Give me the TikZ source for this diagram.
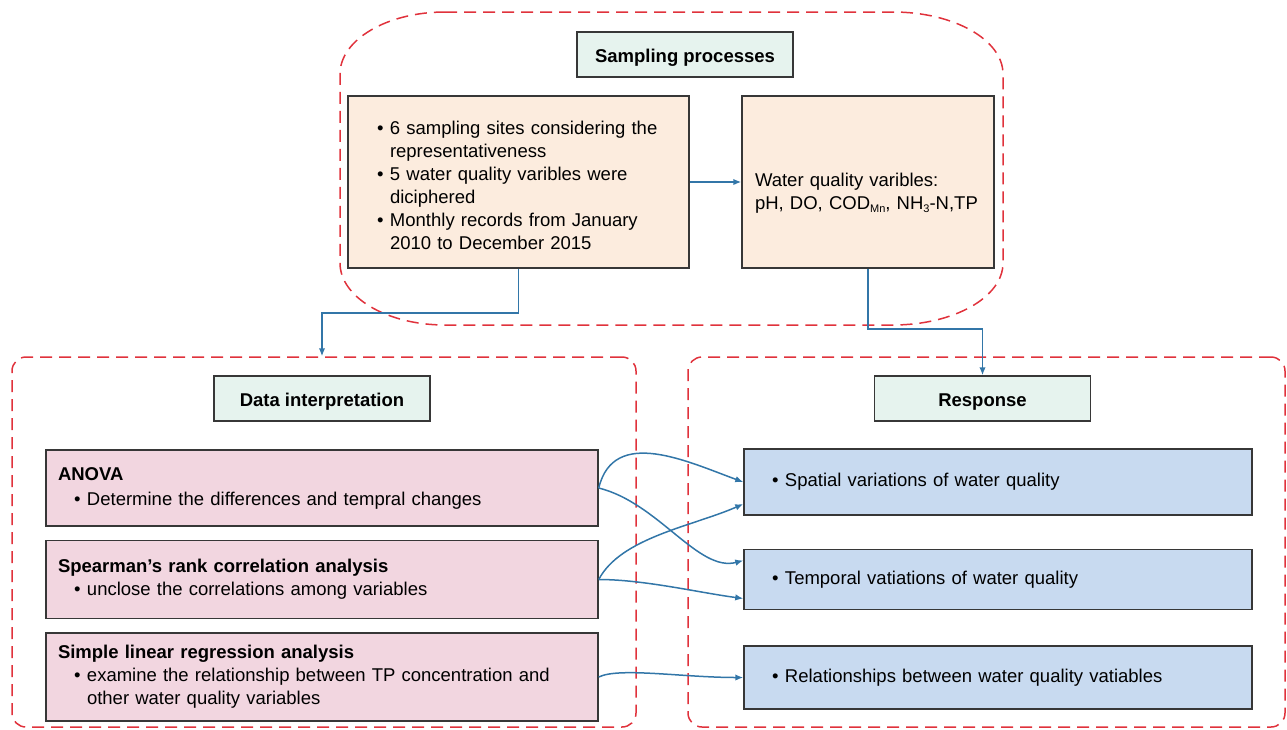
\documentclass[tikz,border=0pt]{standalone}
\usepackage{fontspec}
\setmainfont{Liberation Sans}
\usetikzlibrary{arrows.meta,positioning}

\definecolor{dashred}{RGB}{224,50,60}
\definecolor{flowblue}{RGB}{50,118,168}
\definecolor{mint}{RGB}{230,243,238}
\definecolor{peach}{RGB}{252,236,222}
\definecolor{rose}{RGB}{242,214,224}
\definecolor{sky}{RGB}{200,218,240}
\definecolor{edge}{RGB}{55,55,55}

\newcommand{\bul}{\makebox[13pt][l]{\textbullet}}
\newcommand{\ind}{\hspace*{13pt}}
\newcommand{\sub}[1]{\raisebox{-3pt}{\fontsize{11}{11}\selectfont #1}}

\begin{document}
\begin{tikzpicture}[
  x=1pt, y=-1pt,
  font=\fontsize{18.5}{23}\selectfont,
  >={Latex[length=8pt,width=6.5pt]},
  headbox/.style={draw=edge, line width=1.5pt, fill=mint, minimum width=216pt, minimum height=45pt, font=\fontsize{18.5}{23}\selectfont\bfseries, execute at begin node=\rule{0pt}{19pt}},
  srcbox/.style={draw=edge, line width=1.5pt, fill=peach, align=left, minimum height=172pt},
  method/.style={draw=edge, line width=1.5pt, fill=rose, align=left, inner xsep=12pt, text width=528pt},
  outcome/.style={draw=edge, line width=1.5pt, fill=sky, align=left, inner xsep=28pt, text width=452pt},
  fence/.style={draw=dashred, line width=1.5pt, dash pattern=on 12pt off 7pt},
  flow/.style={->, draw=flowblue, line width=1.5pt}
]
\useasboundingbox (0,0) rectangle (1287,729);

% dashed groups
\draw[fence] (445,12) -- (893,12) arc[start angle=90, end angle=0, x radius=110pt, y radius=62pt]
  -- (1003,263) arc[start angle=0, end angle=-90, x radius=110pt, y radius=62pt]
  -- (445,325) arc[start angle=270, end angle=180, x radius=105pt, y radius=62pt]
  -- (340,74) arc[start angle=180, end angle=90, x radius=105pt, y radius=62pt] -- cycle;
\node[fence, rounded corners=14pt, minimum width=624pt, minimum height=370pt] (interpBox) at (324,542) {};
\node[fence, rounded corners=14pt, minimum width=597pt, minimum height=370pt] (respBox) at (986.5,542) {};

% sampling
\node[headbox] (sampT) at (685,54.5) {Sampling processes};
\node[srcbox, inner xsep=29pt, text width=283pt] (src) at (518.5,182)
  {\rule{0pt}{20pt}\bul 6 sampling sites considering the\\
   \ind representativeness\\
   \bul 5 water quality varibles were\\
   \ind diciphered\\
   \bul Monthly records from January\\
   \ind 2010 to December 2015};
\node[srcbox, inner xsep=13pt, text width=226pt] (vars) at (868,182)
  {\rule{0pt}{35pt}Water quality varibles:\\
   \mbox{pH, DO, COD\sub{Mn}, NH\sub{3}-N,TP}};

% data interpretation
\node[headbox] (interpT) at (322,398.5) {Data interpretation};
\node[method, minimum height=76pt] (anova) at (322,488)
  {\textbf{ANOVA}\\[2pt]
   \hspace*{16pt}\bul Determine the differences and tempral changes};
\node[method, minimum height=78pt, below=13pt of anova] (spear)
  {\textbf{Spearman’s rank correlation analysis}\\
   \hspace*{16pt}\bul unclose the correlations among variables};
\node[method, minimum height=88pt, below=13pt of spear] (simple)
  {\textbf{Simple linear regression analysis}\\
   \hspace*{16pt}\bul examine the relationship between TP concentration and\\
   \hspace*{29pt}other water quality variables};

% response
\node[headbox] (respT) at (982.5,398.5) {Response};
\node[outcome, minimum height=66pt] (spatial) at (998,482) {\bul Spatial variations of water quality};
\node[outcome, minimum height=60pt, below=33pt of spatial] (temporal) {\bul Temporal vatiations of water quality};
\node[outcome, minimum height=63pt, below=35pt of temporal] (relat) {\bul Relationships between water quality vatiables};

% connectors
\draw[flow] (src.east) -- (vars.west);
\draw[flow] (src.south) -- ++(0,44) -| (interpT |- interpBox.north);
\draw[flow] (vars.south) -- ++(0,60) -| (respT.north);

\draw[flow] (anova.east) .. controls +(15,-62) and +(-55,-20) .. (spatial.west);
\draw[flow] (anova.east) .. controls +(60,15) and +(-45,12) .. ([yshift=19pt]temporal.west);
\draw[flow] (spear.east) .. controls +(22,-42) and +(-50,22) .. ([yshift=-22pt]spatial.west);
\draw[flow] (spear.east) .. controls +(45,0) and +(-45,-6) .. ([yshift=-19pt]temporal.west);
\draw[flow] (simple.east) .. controls +(20,-10) and +(-60,0) .. (relat.west);

\end{tikzpicture}
\end{document}
